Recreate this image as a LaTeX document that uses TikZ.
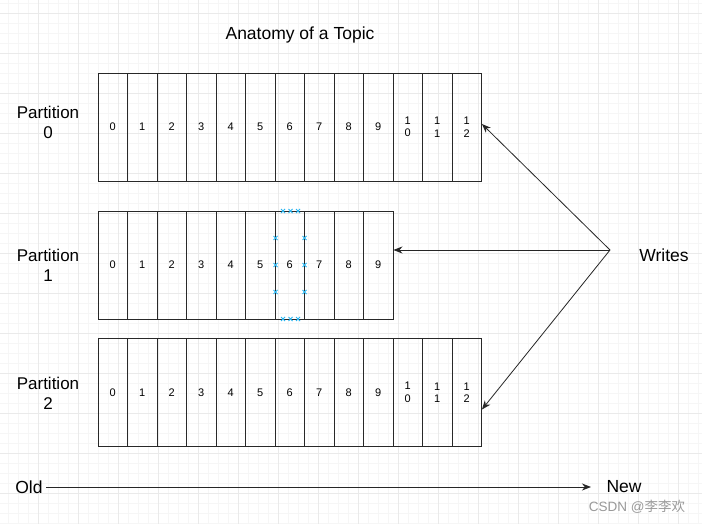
\documentclass[tikz,border=0pt]{standalone}
\usepackage{fontspec}
\setmainfont{Liberation Sans}
\newfontfamily\cjkfont{Noto Sans CJK SC}
\usepackage{tikz}
\usetikzlibrary{arrows.meta, positioning, calc, backgrounds}
\definecolor{gridminor}{RGB}{246,246,246}
\definecolor{gridmajor}{RGB}{234,234,234}
\definecolor{cellline}{RGB}{40,40,40}
\definecolor{handleblue}{RGB}{41,182,242}
\tikzset{
  cell/.style={rectangle,draw=cellline,line width=0.9pt,minimum width=29.5pt,minimum height=108pt,
    inner sep=0pt,align=center,font=\fontsize{11}{12.5}\selectfont},
  partlabel/.style={align=center,font=\fontsize{17}{20}\selectfont},
  plainlabel/.style={font=\fontsize{17.5}{20}\selectfont},
  arr/.style={-{Stealth[length=9pt,width=7pt]},line width=0.8pt,color=black!85},
  handle/.style={color=handleblue,line width=0.8pt}
}
\newcommand{\handlemark}[1]{\draw[handle] ($#1+(-2pt,-2pt)$) -- ($#1+(2pt,2pt)$)
  ($#1+(-2pt,2pt)$) -- ($#1+(2pt,-2pt)$);}

\begin{document}
\begin{tikzpicture}[x=1pt,y=-1pt]
  \useasboundingbox (0,0) rectangle (702,524);

  %% GRID
  \begin{pgfonlayer}{background}
    \fill[white] (0,0) rectangle (702,524);
    \foreach \gx in {8,18,...,700} \draw[gridminor,line width=0.5pt] (\gx,0) -- (\gx,524);
    \foreach \gy in {3,13,...,523} \draw[gridminor,line width=0.5pt] (0,\gy) -- (702,\gy);
    \foreach \gx in {38,78,...,700} \draw[gridmajor,line width=0.6pt] (\gx,0) -- (\gx,524);
    \foreach \gy in {13,53,...,523} \draw[gridmajor,line width=0.6pt] (0,\gy) -- (702,\gy);
  \end{pgfonlayer}

  %% TITLE
  \node[plainlabel] (title) at (300,35) {Anatomy of a Topic};

  %% PARTITIONS
  \foreach \i/\t in {0/0,1/1,2/2,3/3,4/4,5/5,6/6,7/7,8/8,9/9,10/1\\0,11/1\\1,12/1\\2}
    \node[cell] (p0c\i) at ({98+29.5*(\i+0.5)},127) {\t};
  \foreach \i in {0,...,9}
    \node[cell] (p1c\i) at ({98+29.5*(\i+0.5)},265) {\i};
  \foreach \i/\t in {0/0,1/1,2/2,3/3,4/4,5/5,6/6,7/7,8/8,9/9,10/1\\0,11/1\\1,12/1\\2}
    \node[cell] (p2c\i) at ({98+29.5*(\i+0.5)},392.5) {\t};

  \node[partlabel] (lab0) at (48,122) {Partition\\0};
  \node[partlabel] (lab1) at (48,265) {Partition\\1};
  \node[partlabel] (lab2) at (48,393) {Partition\\2};

  %% SELECTION HANDLES
  \foreach \hx in {283,290.5,298} {\handlemark{(\hx,211)} \handlemark{(\hx,319)}}
  \foreach \hy in {238,265,292} {\handlemark{(275.5,\hy)} \handlemark{(304.5,\hy)}}

  %% WRITES
  \node[plainlabel] (writes) at (664,255) {Writes};
  \coordinate (src) at (610,250);
  \draw[arr] (src) -- ($(p0c12.east)+(0,-3)$);
  \draw[arr] (src) -- ($(p1c9.east)+(0,-15)$);
  \draw[arr] (src) -- ($(p2c12.east)+(0,17)$);

  %% TIME AXIS
  \node[plainlabel] (old) at (29,487) {Old};
  \node[plainlabel] (new) at (624,487) {New};
  \draw[arr,shorten >=12pt] (old.east) -- (new.west);

  \node[text=black!40,font=\fontsize{13.5}{15}\selectfont] (mark) at (637,507) {CSDN @{\cjkfont 李李欢}};
\end{tikzpicture}
\end{document}
